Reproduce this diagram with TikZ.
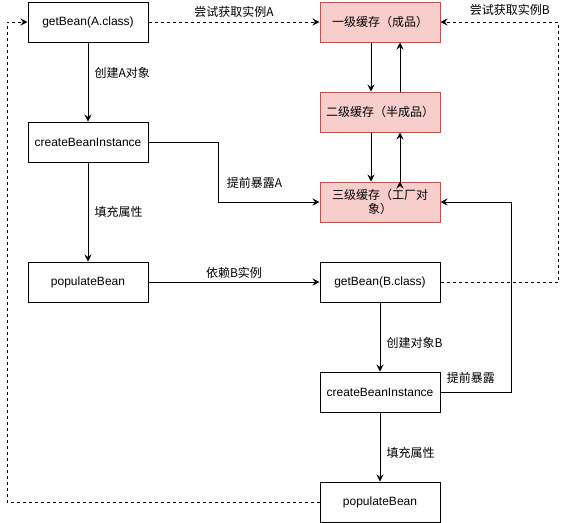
\documentclass[tikz,border=0pt]{standalone}
\usepackage{fontspec}
\setmainfont{Liberation Sans}
\newfontfamily\cjk{Noto Sans CJK SC}
\usetikzlibrary{arrows.meta,positioning}
\definecolor{cachefill}{HTML}{F8CECC}
\definecolor{cacheline}{HTML}{B85450}

\begin{document}
\begin{tikzpicture}[x=1pt, y=-1pt, line width=1pt,
    >={Stealth[length=7pt,width=7pt,inset=2.5pt]},
    box/.style={draw, minimum width=120, minimum height=40, inner sep=0pt, font=\fontsize{12}{14}\selectfont},
    cache/.style={box, draw=cacheline, fill=cachefill, align=center, font=\cjk\fontsize{12}{14}\selectfont},
    lbl/.style={inner sep=1pt, font=\cjk\fontsize{12}{14}\selectfont},
    dashline/.style={dash pattern=on 3pt off 3pt}]
    \useasboundingbox (0, 0) rectangle (566, 523);
    \node[box] at (88, 22) (getA) {getBean(A.class)};
    \node[box] at (88, 142) (cbiA) {createBeanInstance};
    \node[box] at (88, 282) (popA) {populateBean};
    \node[cache] at (380, 22) (cache1) {一级缓存（成品）};
    \node[cache] at (380, 112) (cache2) {二级缓存（半成品）};
    \node[cache] at (380, 202) (cache3) {三级缓存（工厂对\\象）};
    \node[box] at (380, 282) (getB) {getBean(B.class)};
    \node[box] at (380, 392) (cbiB) {createBeanInstance};
    \node[box] at (380, 502) (popB) {populateBean};
    \draw[->]
    (getA) edge node[lbl, right=5pt, pos=0.38] {创建A对象} (cbiA)
    (cbiA) edge node[lbl, right=5pt, pos=0.5] {填充属性} (popA)
    (popA) edge node[lbl, above=2pt] {依赖B实例} (getB)
    (getB) edge node[lbl, right=5pt, pos=0.59] {创建对象B} (cbiB)
    (cbiB) edge node[lbl, right=5pt, pos=0.59] {填充属性} (popB)

    ([xshift=-9]cache1.south) edge ([xshift=-9]cache2.north)
    ([xshift=20]cache2.north) edge ([xshift=20]cache1.south)
    ([xshift=-9]cache2.south) edge ([xshift=-9]cache3.north)
    ([xshift=20]cache3.north) edge ([xshift=20]cache2.south) ;
    \draw[->] (cbiA.east) -- (218, 142) |- node[lbl, above=12pt, pos=0.68] {提前暴露A} (cache3.west);
    \draw[->] (cbiB.east) -- node[lbl, above=7pt, pos=0.43] {提前暴露} (511, 392) |- (cache3.east);
    \draw[->, dashline] (getA) -- node[lbl, above=3pt] {尝试获取实例A} (cache1);
    \draw[->, dashline] (getB.east) -- (558, 282) -- (558, 22) -- node[lbl, above=5pt, pos=0.41] {尝试获取实例B} (cache1.east);
    \draw[->, dashline] (popB.west) -- (7, 502) -- (7, 22) -- (getA.west);
\end{tikzpicture}
\end{document}
